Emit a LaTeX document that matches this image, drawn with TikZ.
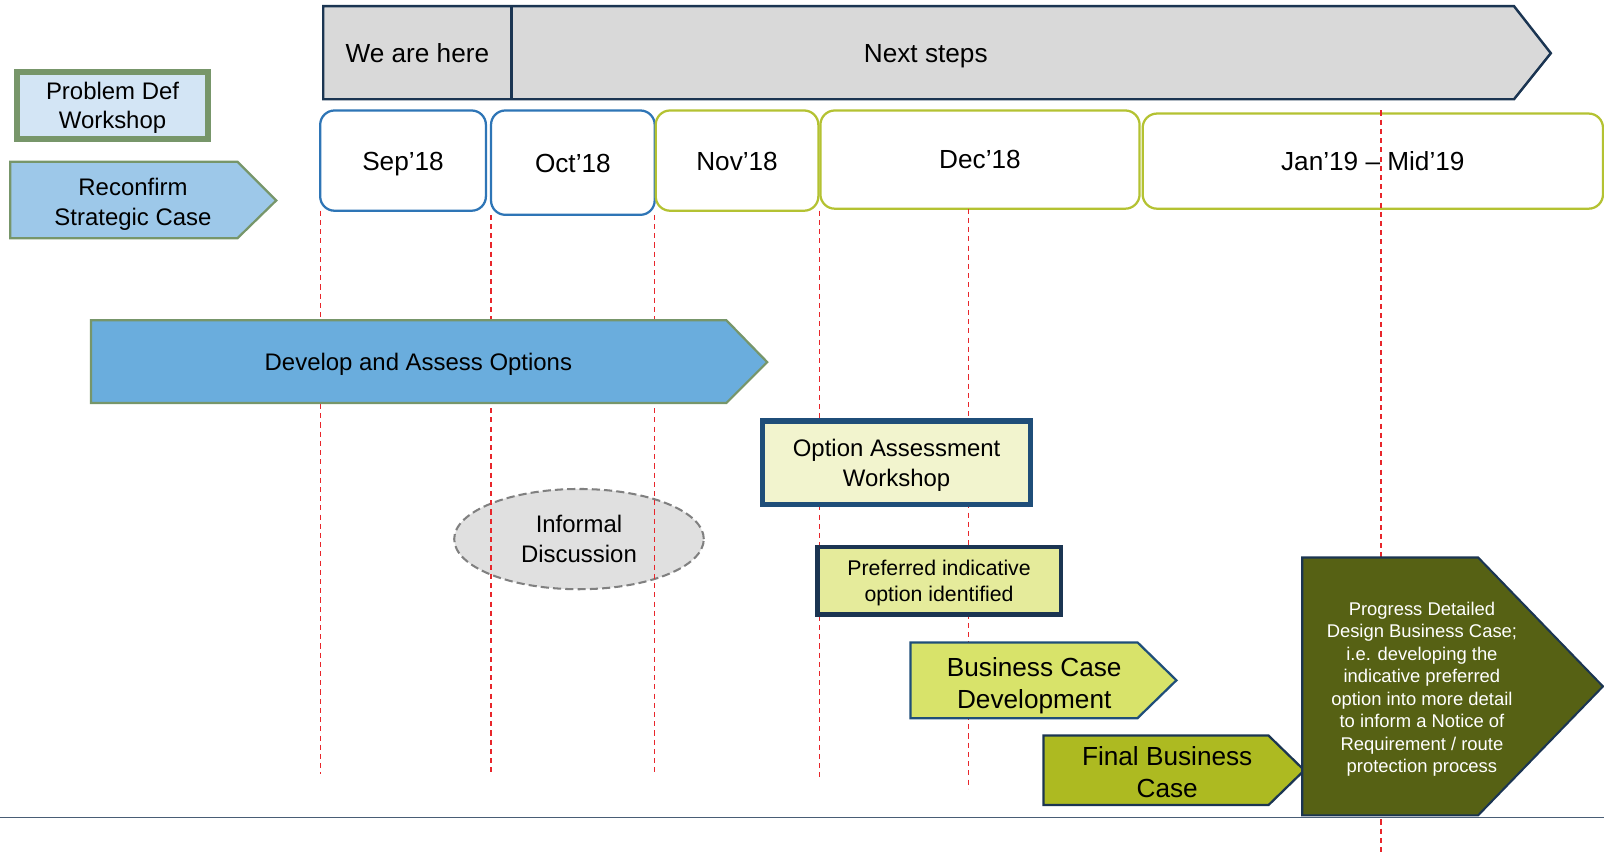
\documentclass[tikz,border=0pt]{standalone}
\usepackage{fontspec}
\setmainfont{Liberation Sans}
\usepackage{xcolor}
\usetikzlibrary{shapes.geometric}

\definecolor{navy}{HTML}{1B3552}
\definecolor{bannergray}{HTML}{D9D9D9}
\definecolor{sage}{HTML}{77966A}
\definecolor{paleblue}{HTML}{D3E5F5}
\definecolor{skyblue}{HTML}{9DC8E9}
\definecolor{midblue}{HTML}{6AADDD}
\definecolor{monthblue}{HTML}{2E75B6}
\definecolor{monthgreen}{HTML}{B4C232}
\definecolor{paleyellow}{HTML}{F2F4CE}
\definecolor{lightolive}{HTML}{E5EB9B}
\definecolor{limegreen}{HTML}{D8E36A}
\definecolor{olive}{HTML}{ADBA21}
\definecolor{darkolive}{HTML}{566114}
\definecolor{steel}{HTML}{1F4E79}
\definecolor{guidered}{HTML}{E8262B}

\begin{document}
\begin{tikzpicture}[
    x=0.5pt, y=-0.5pt,
    % Text styles (no depth, so the letters sit centred)
    bigtxt/.style = {align=center, inner sep=0pt, text depth=0pt,
        font=\fontsize{12.8}{15.5}\selectfont},
    midtxt/.style = {align=center, inner sep=0pt, text depth=0pt,
        font=\fontsize{11.7}{14.5}\selectfont},
    tinytxt/.style = {align=center, inner sep=0pt, text depth=0pt, text=white,
        font=\fontsize{9}{11}\selectfont},
    % Top banner
    banner/.style = {draw=navy, fill=bannergray, line width=1.2pt, line join=miter},
    % Month boxes
    month/.style = {rectangle, rounded corners=7pt, fill=white, line width=1.1pt, inner sep=0pt,
        text height=9.2pt, text depth=0pt, font=\fontsize{12.8}{15.5}\selectfont},
    % Chevron shapes
    bluearrow/.style = {draw=sage, line width=1.1pt},
    greenarrow/.style = {draw=steel, line width=1.1pt},
    % Boxes
    workshop/.style = {rectangle, fill=paleblue, draw=sage, line width=3pt, inner sep=0pt,
        align=center, text depth=0pt, font=\fontsize{11.7}{14.5}\selectfont},
    milestone/.style = {rectangle, inner sep=0pt, align=center, text depth=0pt},
    informalbox/.style = {ellipse, fill=black!12, draw=black!50, line width=1pt,
        dash pattern=on 4pt off 2pt, inner sep=0pt, align=center,
        text depth=0pt, font=\fontsize{11.7}{14.5}\selectfont},
    guide/.style = {draw=guidered, line width=0.6pt, dash pattern=on 2.5pt off 2pt}
]
    \useasboundingbox (0,0) rectangle (1568,835);

    % --- TOP BANNER ---
    \draw [banner] (316,6) -- (1480,6) -- (1516,52) -- (1480,97) -- (316,97) -- cycle;
    \draw [navy, line width=1.2pt] (500,6) -- (500,97);
    \node [bigtxt, text height=9.2pt] (here) at (408,52) {We are here};
    \node [bigtxt, text height=9.2pt] (next) at (905,52) {Next steps};

    % --- LEFT SIDE ---
    \node [workshop, minimum width=93pt, minimum height=32.5pt] (probdef) at (110,103) {Problem Def\\Workshop};
    \draw [bluearrow, fill=skyblue] (10,158) -- (232,158) -- (270,196) -- (232,233) -- (10,233) -- cycle;
    \node [midtxt] (reconfirm) at (130,197) {Reconfirm\\Strategic Case};

    % --- MONTHS ---
    \foreach \xa/\xb/\ya/\yb/\col/\nm/\txt in {
        313/475/108/206/monthblue/sep/Sep’18,
        480/640/108/210/monthblue/oct/Oct’18,
        641/800/108/206/monthgreen/nov/Nov’18,
        802/1114/108/204/monthgreen/dec/Dec’18,
        1117/1567/111/204/monthgreen/jan/Jan’19 – Mid’19}
        \node [month, draw=\col, minimum width={(\xb-\xa)*0.5pt}, minimum height={(\yb-\ya)*0.5pt}]
            (\nm) at ({(\xa+\xb)/2},{(\ya+\yb)/2}) {\txt};

    % --- INFORMAL DISCUSSION ---
    \node [informalbox, minimum width=122pt, minimum height=49pt] (informal) at (566,527) {Informal\\Discussion};

    % --- GUIDE LINES ---
    \foreach \x/\ya/\yb in {313/206/757, 480/210/757, 640/210/757, 801/206/760, 947/204/771}
        \draw [guide] (\x,\ya) -- (\x,\yb);
    \draw [guide] (1350,108) -- (1350,835);

    % --- DEVELOP AND ASSESS ---
    \draw [bluearrow, fill=midblue] (89,313) -- (710,313) -- (750,354) -- (710,394) -- (89,394) -- cycle;
    \node [midtxt, text height=8.4pt] (develop) at (409,354) {Develop and Assess Options};

    % --- MILESTONES ---
    \node [milestone, fill=paleyellow, draw=steel, line width=2.5pt, minimum width=131pt, minimum height=41pt,
        font=\fontsize{11.7}{14.5}\selectfont] (oaw) at (876.5,452.5) {Option Assessment\\Workshop};
    \node [milestone, fill=lightolive, draw=navy, line width=2.2pt, minimum width=119pt, minimum height=33pt,
        font=\fontsize{10.4}{12.8}\selectfont] (preferred) at (918,567.5) {Preferred indicative\\option identified};

    % --- BUSINESS CASE ---
    \draw [greenarrow, fill=limegreen] (890,628) -- (1112,628) -- (1150,665) -- (1112,702) -- (890,702) -- cycle;
    \node [bigtxt] (bcd) at (1011,667.5) {Business Case\\Development};
    \draw [greenarrow, draw=navy, fill=olive] (1020,719) -- (1240,719) -- (1275,753) -- (1240,787) -- (1020,787) -- cycle;
    \node [bigtxt] (fbc) at (1141,754.5) {Final Business\\Case};

    % --- BASELINE ---
    \draw [navy!80, line width=0.6pt] (0,799) -- (1568,799);

    % --- PROGRESS DETAILED DESIGN ---
    \draw [draw=navy, line width=1pt, fill=darkolive] (1273,545) -- (1445,545) -- (1567,671) -- (1445,797) -- (1273,797) -- cycle;
    \node [tinytxt] (progress) at (1390,672) {Progress Detailed\\Design Business Case;\\i.e. developing the\\indicative preferred\\option into more detail\\to inform a Notice of\\Requirement / route\\protection process};

\end{tikzpicture}
\end{document}
